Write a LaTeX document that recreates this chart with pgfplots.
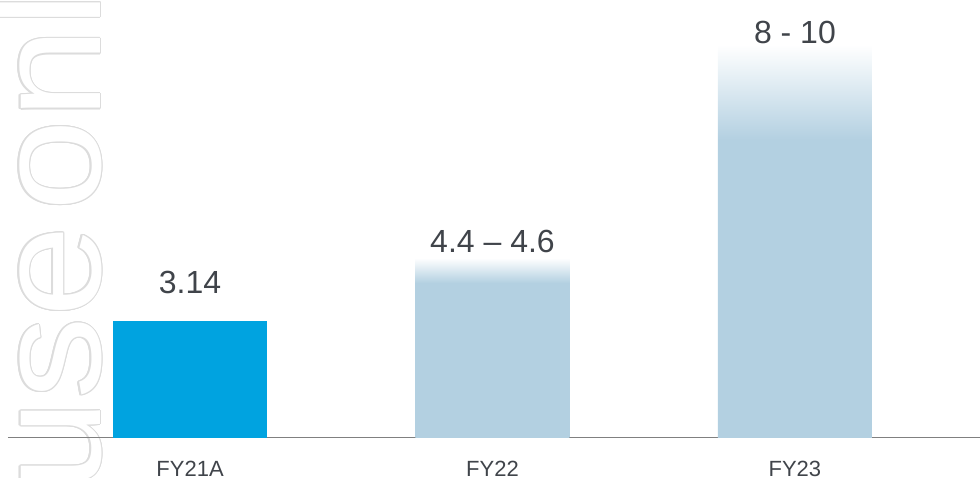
\documentclass[border=0pt]{standalone}
\usepackage{fontspec}
\setmainfont{Liberation Sans}
\newfontfamily\wmfont[FakeStretch=1.1]{Liberation Sans}
\usepackage{pgfplots}
\pgfplotsset{compat=1.18}
\usetikzlibrary{calc}
\definecolor{fyblue}{RGB}{0,163,224}
\definecolor{lightbar}{RGB}{179,208,225}
\definecolor{labelgray}{RGB}{64,68,74}
\definecolor{axisgray}{RGB}{128,128,128}
\definecolor{wmgray}{RGB}{220,220,220}
% FY22: solid up to 4.16 of 4.83
\pgfdeclareverticalshading{fadeA}{100bp}{color(0bp)=(lightbar); color(68.06bp)=(lightbar); color(75bp)=(white); color(100bp)=(white)}
% FY23: solid up to 8.0 of 10.55
\pgfdeclareverticalshading{fadeB}{100bp}{color(0bp)=(lightbar); color(62.9bp)=(lightbar); color(75bp)=(white); color(100bp)=(white)}
\newcommand{\wmtext}{use\kern14pt only}
\begin{document}
\begin{tikzpicture}[x=1pt,y=1pt]
\useasboundingbox (0,0) rectangle (980,478);
\clip (0,0) rectangle (980,478);
\foreach \a in {0,22.5,...,337.5}{
  \node[rotate=90, anchor=base west, inner sep=0, text=wmgray, font=\wmfont\fontsize{150}{150}\selectfont]
    at ($(100,-13.7)+(\a:1.1)$) {\wmtext};
}
\node[rotate=90, anchor=base west, inner sep=0, text=white, font=\wmfont\fontsize{150}{150}\selectfont] at (100,-13.7) {\wmtext};
\begin{axis}[
  at={(8pt,40pt)}, anchor=south west,
  scale only axis, width=972pt, height=438pt,
  xmin=-0.602, xmax=2.612, ymin=0, ymax=11.755,
  axis y line=none,
  axis x line*=bottom,
  x axis line style={axisgray, line width=1pt},
  xtick={0,1,2}, xticklabels={FY21A,FY22,FY23},
  major tick length=0pt,
  xticklabel style={anchor=base, inner sep=0pt, yshift=-39pt, text=labelgray, font=\fontsize{22}{22}\selectfont},
  ybar, bar width=154pt, bar shift=0pt,
  clip=false,
]
\addplot[fill=fyblue, draw=none] coordinates {(0,3.14)};
\addplot[shading=fadeA, draw=none] coordinates {(1,4.83)};
\addplot[shading=fadeB, draw=none] coordinates {(2,10.55)};
\node[anchor=base, text=labelgray, font=\fontsize{32}{32}\selectfont] at (axis cs:0,3.89) {3.14};
\node[anchor=base, text=labelgray, font=\fontsize{32}{32}\selectfont] at (axis cs:1,4.965) {4.4 – 4.6};
\node[anchor=base, text=labelgray, font=\fontsize{32}{32}\selectfont] at (axis cs:2,10.60) {8 - 10};
\end{axis}
\end{tikzpicture}
\end{document}
